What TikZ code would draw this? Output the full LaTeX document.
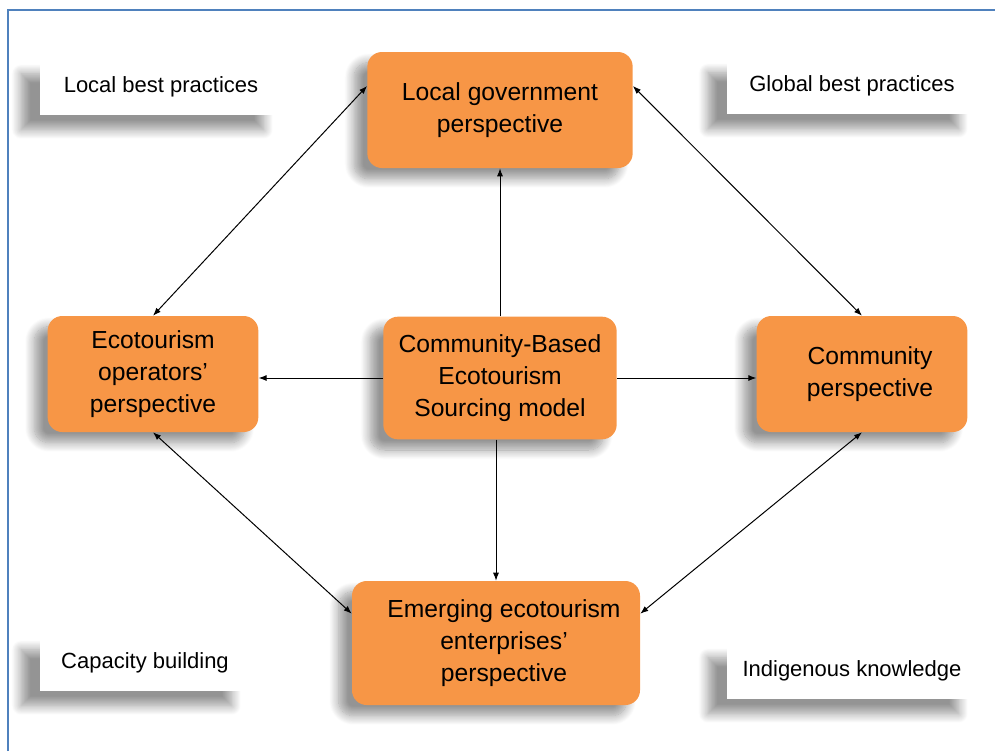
\documentclass[tikz,border=0pt]{standalone}
\usepackage{fontspec}
\setmainfont{Liberation Sans}
\usetikzlibrary{arrows.meta,shadows.blur}
\definecolor{boxorange}{HTML}{F79646}
\definecolor{frameblue}{HTML}{4F81BD}
\tikzset{
    orange-box/.style = {fill=boxorange, rectangle, rounded corners=11pt, align=center, inner sep=4pt,
        font=\fontsize{18.5}{24}\selectfont,
        blur shadow={shadow xshift=-10pt, shadow yshift=-8pt, shadow blur steps=12, shadow blur radius=7pt, shadow opacity=42}},
    note-box/.style = {fill=white, rectangle, align=center, minimum height=42pt,
        font=\fontsize{16.5}{20}\selectfont,
        blur shadow={shadow xshift=-14pt, shadow yshift=-11pt, shadow blur steps=12, shadow blur radius=7pt, shadow opacity=42}},
    link/.style = {line width=0.75pt, -{Latex[length=6pt,width=4.5pt]}},
    both-link/.style = {line width=0.75pt, {Latex[length=6pt,width=4.5pt]}-{Latex[length=6pt,width=4.5pt]}},
}
\begin{document}
\begin{tikzpicture}[x=0.75pt,y=-0.75pt]
\useasboundingbox (0,0) rectangle (995,751);
% frame
\draw[frameblue, line width=1.5pt] (8,751) -- (8,10) -- (995,10);

% corner notes
\node [note-box, minimum width=182pt] (local) at (161,87) {Local best practices};
\node [note-box, minimum width=188pt] (global) at (852,86) {Global best practices};
\node [note-box, minimum width=158pt] (capacity) at (145,663) {Capacity building};
\node [note-box, minimum width=188pt] (indigenous) at (852,671) {Indigenous knowledge};

% perspectives
\node [orange-box, minimum width=199pt, minimum height=87pt] (gov) at (500,110) {Local government\\perspective};
\node [orange-box, minimum width=175pt, minimum height=92pt] (model) at (500,378) {Community-Based\\Ecotourism\\Sourcing model};
\node [orange-box, minimum width=158pt, minimum height=87pt] (operators) at (153,374) {Ecotourism\\operators'\\perspective};
\node [orange-box, minimum width=158pt, minimum height=87pt] (community) at (862,374) {\hspace*{12pt}Community\\\hspace*{12pt}perspective};
\node [orange-box, minimum width=216pt, minimum height=93pt] (emerging) at (496,643) {\hspace*{12pt}Emerging ecotourism\\\hspace*{12pt}enterprises'\\\hspace*{12pt}perspective};

% from the model
\draw [link] (model) -- (gov);
\draw [link] (model) -- (operators.east |- model);
\draw [link] (model) -- (community.west |- model);
\draw [link] (model.south -| emerging.north) -- (emerging.north);

% round the model
\draw [both-link] ([yshift=18pt]gov.west) -- (operators.north);
\draw [both-link] ([yshift=18pt]gov.east) -- (community.north);
\draw [both-link] (operators.south) -- ([yshift=22pt]emerging.west);
\draw [both-link] (community.south) -- ([yshift=22pt]emerging.east);
\end{tikzpicture}
\end{document}
